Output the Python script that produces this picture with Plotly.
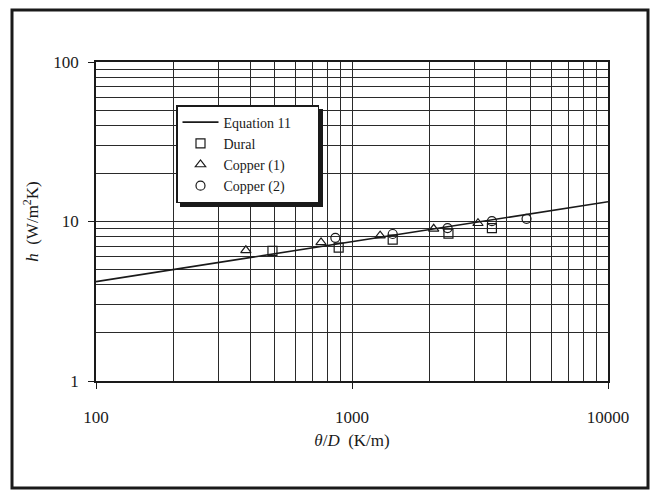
import plotly.graph_objects as go

# Equation 11 (straight line on log-log, read endpoints)
eq_x = [100, 10000]
eq_h = [4.2, 13.3]

# Dural
dural_x = [489, 887, 1442, 2381, 3520]
dural_h = [6.55, 6.85, 7.7, 8.4, 9.1]

# Copper (1)
cu1_x = [385, 757, 1288, 2085, 3105]
cu1_h = [6.6, 7.4, 8.15, 9.0, 9.75]

# Copper (2)
cu2_x = [861, 1442, 2362, 3520, 4806]
cu2_h = [7.9, 8.35, 9.1, 10.05, 10.4]

x_ticks = [100, 1000, 10000]
y_ticks = [1, 10, 100]
x_minor = [m * d for d in (100, 1000) for m in range(2, 10)]
y_minor = [m * d for d in (1, 10) for m in range(2, 10)]

FONT = "Liberation Serif"
INK = "#1a1a1a"
PAD = "&nbsp;" * 6

fig = go.Figure()
fig.add_trace(go.Scatter(x=eq_x, y=eq_h, mode="lines", name="Equation 11" + PAD,
                         line=dict(color=INK, width=1.6)))
fig.add_trace(go.Scatter(x=dural_x, y=dural_h, mode="markers", name="Dural",
                         marker=dict(symbol="square-open", size=9, color=INK, line=dict(width=1.2))))
fig.add_trace(go.Scatter(x=cu1_x, y=cu1_h, mode="markers", name="Copper (1)",
                         marker=dict(symbol="triangle-up-open", size=9, color=INK, line=dict(width=1.2))))
fig.add_trace(go.Scatter(x=cu2_x, y=cu2_h, mode="markers", name="Copper (2)",
                         marker=dict(symbol="circle-open", size=9, color=INK, line=dict(width=1.2))))

L, R, T, B = 96, 51, 62, 109
W, H = 659, 490
pw, ph = W - L - R, H - T - B

def px(x):
    return (x - L) / pw

def py(y):
    return (H - B - y) / ph

fig.update_layout(
    width=W, height=H,
    margin=dict(l=L, r=R, t=T, b=B),
    paper_bgcolor="white", plot_bgcolor="white",
    font=dict(family=FONT, size=16, color=INK),
    showlegend=True,
    legend=dict(x=px(176), y=py(105), xanchor="left", yanchor="top",
                bgcolor="white", bordercolor=INK, borderwidth=1.5,
                font=dict(family=FONT, size=14, color=INK),
                tracegroupgap=0, itemwidth=36),
    xaxis=dict(type="log", range=[2, 4], tickmode="array", tickvals=x_ticks,
               ticktext=[str(v) for v in x_ticks],
               showgrid=True, gridcolor="#2a2a2a", gridwidth=1,
               minor=dict(tickmode="array", tickvals=x_minor, showgrid=True,
                          gridcolor="#2a2a2a", gridwidth=1, ticks=""),
               ticks="outside", ticklen=6, tickcolor=INK, ticklabelstandoff=14,
               showline=True, linecolor=INK, linewidth=1.5, mirror=True,
               zeroline=False,
               tickfont=dict(family=FONT, size=17),
               title=dict(text="<i>θ</i>/<i>D</i>  (K/m)", font=dict(family=FONT, size=17),
                          standoff=8)),
    yaxis=dict(type="log", range=[0, 2], tickmode="array", tickvals=y_ticks,
               ticktext=[str(v) for v in y_ticks],
               showgrid=True, gridcolor="#2a2a2a", gridwidth=1,
               minor=dict(tickmode="array", tickvals=y_minor, showgrid=True,
                          gridcolor="#2a2a2a", gridwidth=1, ticks=""),
               ticks="outside", ticklen=6, tickcolor=INK, ticklabelstandoff=6,
               showline=True, linecolor=INK, linewidth=1.5, mirror=True,
               zeroline=False,
               tickfont=dict(family=FONT, size=17),
               title=dict(text="<i>h</i>  (W/m<sup>2</sup>K)", font=dict(family=FONT, size=17),
                          standoff=10)),
    shapes=[
        # outer frame
        dict(type="rect", xref="paper", yref="paper",
             x0=px(12), x1=px(648), y0=py(488), y1=py(10),
             line=dict(color=INK, width=3), fillcolor="rgba(0,0,0,0)", layer="above"),
        # legend shadow
        dict(type="rect", xref="paper", yref="paper",
             x0=px(180), x1=px(323), y0=py(207), y1=py(109),
             line=dict(width=0), fillcolor=INK, layer="above"),
    ],
)

fig.write_html("out.html")
